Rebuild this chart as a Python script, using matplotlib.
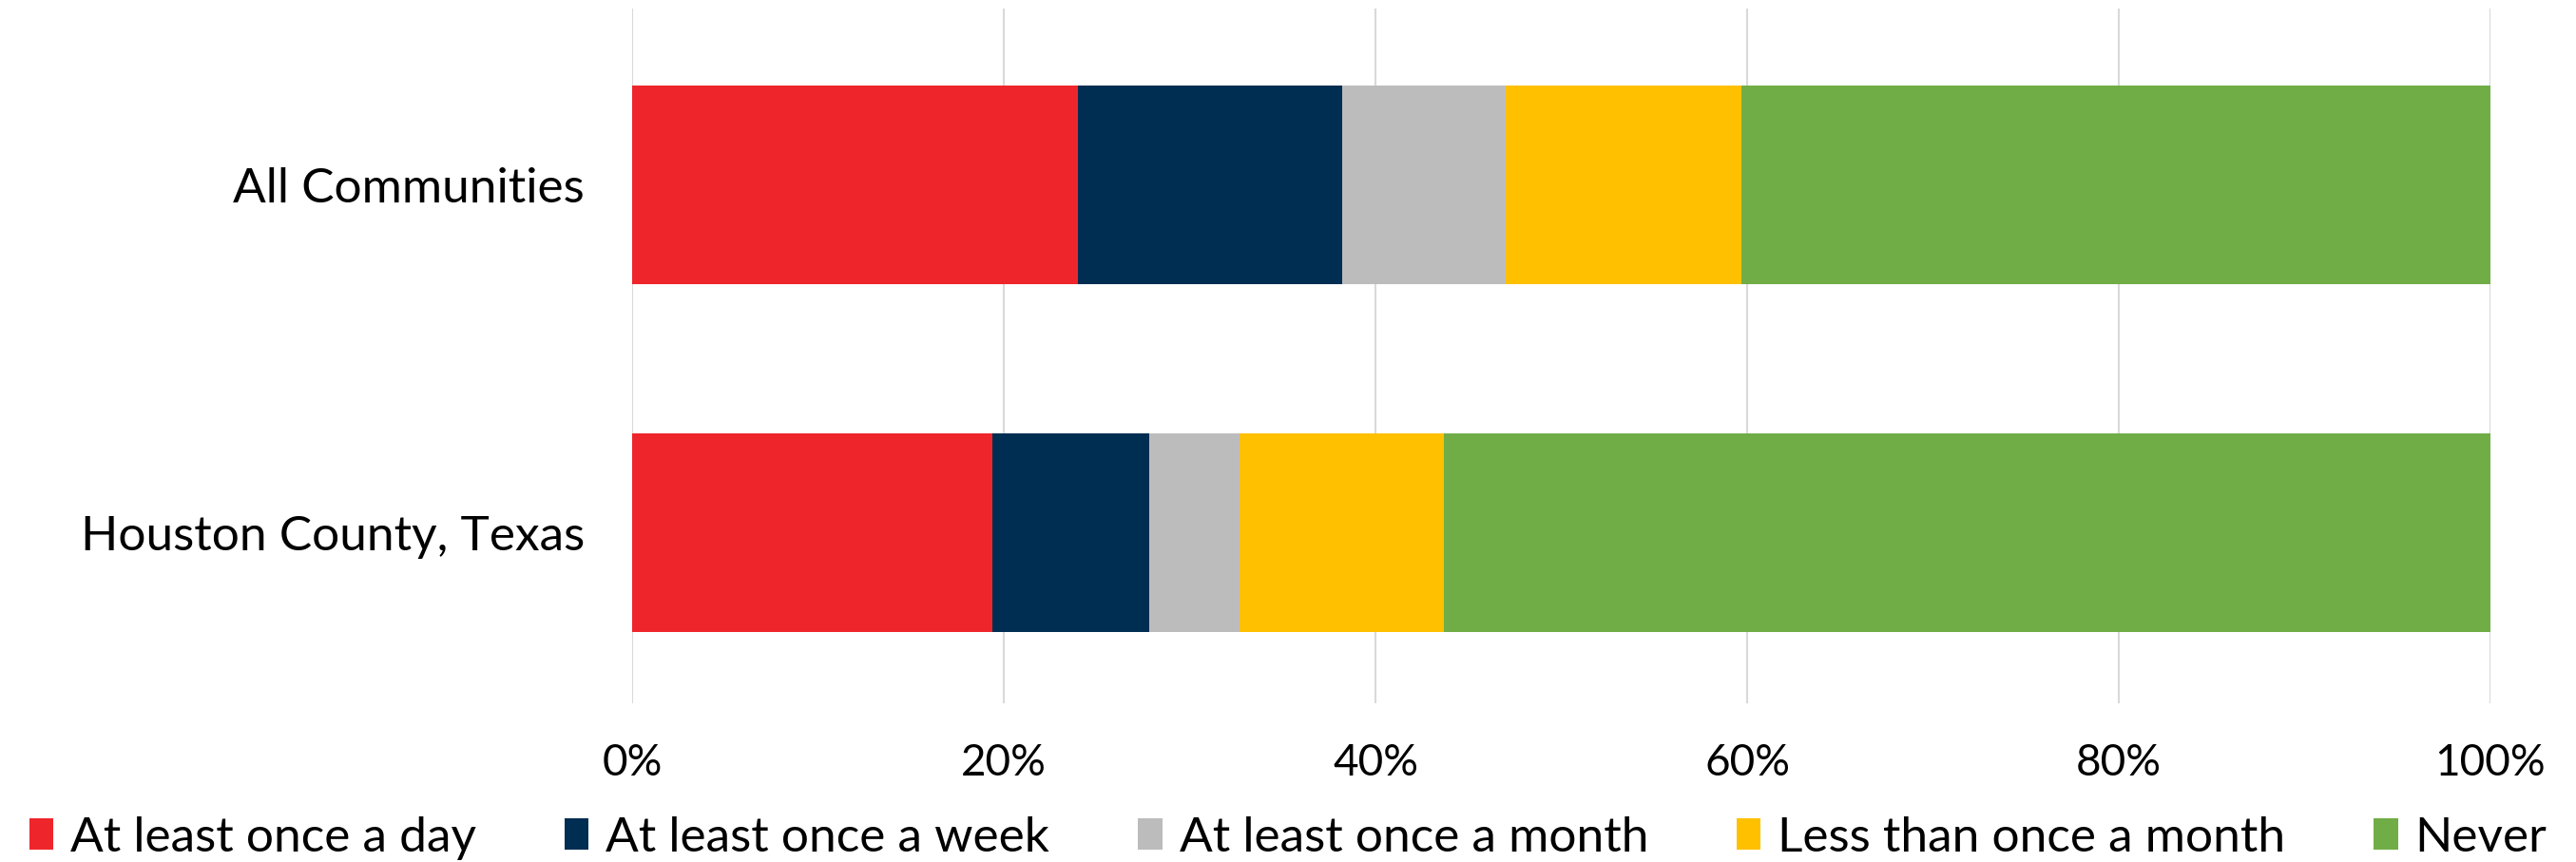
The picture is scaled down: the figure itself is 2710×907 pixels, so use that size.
from matplotlib import pyplot as plt
import numpy as np

plt.rcParams['font.family'] = ['Lato', 'DejaVu Sans']

# data (percent of respondents)
categories = ["All Communities", "Houston County, Texas"]
series_names = ["At least once a day", "At least once a week", "At least once a month",
                "Less than once a month", "Never"]
day = [24.0, 19.4]
week = [14.2, 8.4]
month = [8.8, 4.9]
less_month = [12.7, 11.0]
never = [40.3, 56.3]
colors = ["#EE262C", "#002D52", "#BDBCBD", "#FFC000", "#70AD47"]

fig = plt.figure(figsize=(27.10, 9.07), dpi=100)
ax = fig.add_axes([0.2454, 0.1841, 0.7214, 0.806])

y = np.arange(len(categories))
left = np.zeros(len(categories))
for name, vals, col in zip(series_names, [day, week, month, less_month, never], colors):
    ax.barh(y, vals, left=left, height=0.571, color=col, label=name, zorder=3)
    left += np.array(vals)

ax.set_xlim(0, 100)
ax.set_ylim(1.49, -0.507)
ax.set_yticks(y)
ax.set_yticklabels(categories)
ax.set_xticks(np.arange(0, 101, 20))
ax.set_xticklabels([f"{v}%" for v in range(0, 101, 20)])

ax.grid(axis='x', color='#d9d9d9', lw=1.5, zorder=0)
ax.grid(axis='y', visible=False)
for s in ax.spines.values():
    s.set_visible(False)
ax.tick_params(axis='y', length=0, pad=36, labelsize=37, labelcolor='black')
ax.tick_params(axis='x', length=0, pad=30, labelsize=33, labelcolor='black')

fig.legend(loc='lower center', bbox_to_anchor=(0.5, -0.02), ncol=5, frameon=False,
           fontsize=37, handlelength=0.5, handleheight=0.6, handletextpad=0.35,
           columnspacing=1.8, borderaxespad=0)

fig.savefig("out.png", dpi=100)
